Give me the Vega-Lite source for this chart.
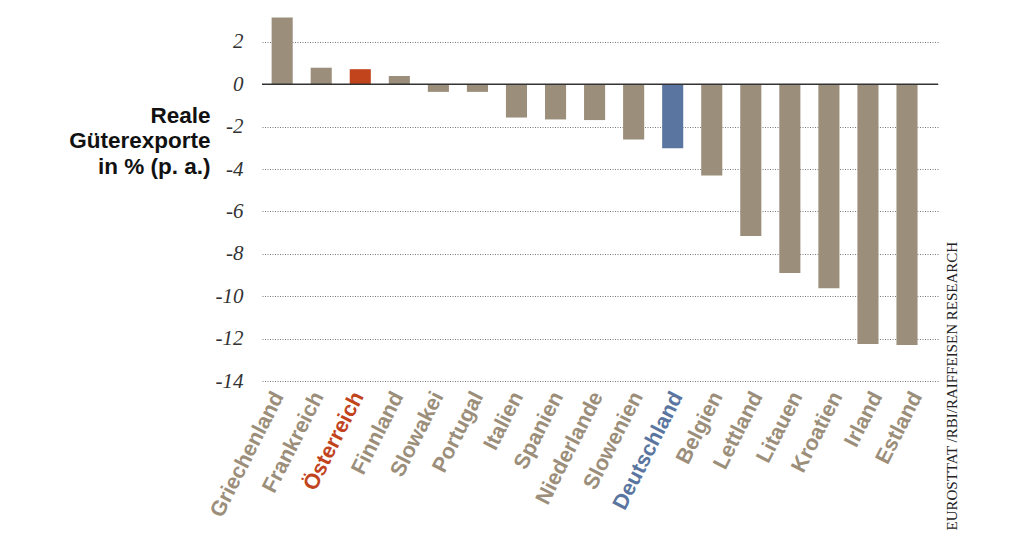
{
  "$schema": "https://vega.github.io/schema/vega-lite/v6.json",
  "width": 676,
  "height": 365,
  "autosize": {"type": "none"},
  "padding": {"left": 262, "top": 16, "right": 86, "bottom": 166},
  "background": "white",
  "config": {"view": {"stroke": null}},
  "layer": [
    {
      "data": {
        "values": [
          {"land": "Griechenland", "wert": 3.15, "gruppe": "andere"},
          {"land": "Frankreich", "wert": 0.78, "gruppe": "andere"},
          {"land": "Österreich", "wert": 0.71, "gruppe": "Österreich"},
          {"land": "Finnland", "wert": 0.39, "gruppe": "andere"},
          {"land": "Slowakei", "wert": -0.36, "gruppe": "andere"},
          {"land": "Portugal", "wert": -0.36, "gruppe": "andere"},
          {"land": "Italien", "wert": -1.57, "gruppe": "andere"},
          {"land": "Spanien", "wert": -1.66, "gruppe": "andere"},
          {"land": "Niederlande", "wert": -1.69, "gruppe": "andere"},
          {"land": "Slowenien", "wert": -2.61, "gruppe": "andere"},
          {"land": "Deutschland", "wert": -3.02, "gruppe": "Deutschland"},
          {"land": "Belgien", "wert": -4.31, "gruppe": "andere"},
          {"land": "Lettland", "wert": -7.16, "gruppe": "andere"},
          {"land": "Litauen", "wert": -8.91, "gruppe": "andere"},
          {"land": "Kroatien", "wert": -9.63, "gruppe": "andere"},
          {"land": "Irland", "wert": -12.25, "gruppe": "andere"},
          {"land": "Estland", "wert": -12.3, "gruppe": "andere"}
        ]
      },
      "mark": {"type": "bar"},
      "encoding": {
        "x": {
          "field": "land",
          "type": "nominal",
          "sort": null,
          "scale": {"paddingInner": 0.46, "paddingOuter": 0.385, "align": 0.32},
          "axis": {
            "title": null,
            "ticks": false,
            "domain": false,
            "grid": false,
            "labelAngle": -63,
            "labelAlign": "right",
            "labelBaseline": "top",
            "labelPadding": 7,
            "labelOffset": {"expr": "datum.index * 13.6 - 13"},
            "labelFont": "Liberation Sans",
            "labelFontWeight": "bold",
            "labelFontSize": 21.5,
            "labelOverlap": false,
            "labelColor": {"expr": "datum.label == 'Österreich' ? '#c1441d' : datum.label == 'Deutschland' ? '#5a76a0' : '#9b8e7a'"}
          }
        },
        "y": {
          "field": "wert",
          "type": "quantitative",
          "scale": {"domain": [-14, 3.22], "nice": false, "zero": true},
          "axis": {
            "orient": "left",
            "values": [-14, -12, -10, -8, -6, -4, -2, 0, 2],
            "labelExpr": "'' + datum.value",
            "labelFont": "Liberation Serif",
            "labelFontStyle": "italic",
            "labelFontSize": 21,
            "labelColor": "#333333",
            "labelPadding": 19,
            "ticks": false,
            "domain": false,
            "grid": true,
            "gridDash": [1, 1.5],
            "gridColor": "#777777",
            "gridWidth": 1,
            "title": ["Reale", "Güterexporte", "in % (p. a.)"],
            "titleAngle": 0,
            "titleAlign": "right",
            "titleBaseline": "alphabetic",
            "titleX": -52,
            "titleY": 106,
            "titleFont": "Liberation Sans",
            "titleFontSize": 22.5,
            "titleFontWeight": "bold",
            "titleLineHeight": 25.5,
            "titleColor": "#111111"
          }
        },
        "color": {
          "field": "gruppe",
          "type": "nominal",
          "scale": {"domain": ["andere", "Österreich", "Deutschland"], "range": ["#9b8e7a", "#c1441d", "#5a76a0"]},
          "legend": null
        }
      }
    },
    {
      "data": {"values": [{"nulllinie": 0}]},
      "mark": {"type": "rule", "color": "#333333", "strokeWidth": 1.5},
      "encoding": {
        "y": {
          "field": "nulllinie",
          "type": "quantitative",
          "axis": {
            "orient": "right",
            "labels": false,
            "ticks": false,
            "domain": false,
            "grid": false,
            "title": "EUROSTTAT /RBI/RAIFFEISEN RESEARCH",
            "titleAngle": -90,
            "titleAlign": "left",
            "titleBaseline": "middle",
            "titleX": 13,
            "titleY": 514,
            "titleFont": "Liberation Serif",
            "titleFontSize": 15,
            "titleFontWeight": "normal",
            "titleColor": "#222222"
          }
        }
      }
    }
  ],
  "resolve": {"axis": {"y": "independent"}}
}
